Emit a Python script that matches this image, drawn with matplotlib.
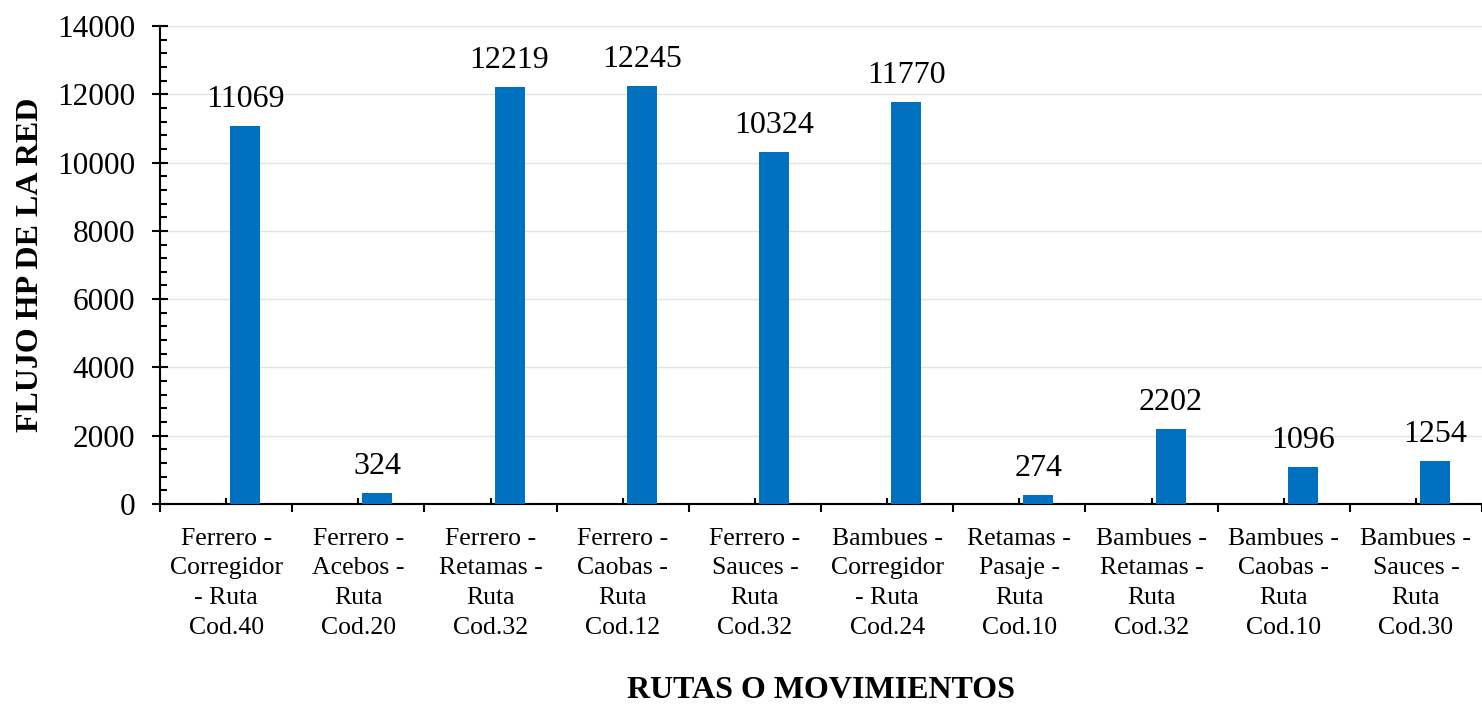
import numpy as np
import matplotlib
matplotlib.use("Agg")
import matplotlib.pyplot as plt
from matplotlib.ticker import MultipleLocator, FixedLocator

rutas = ["Ferrero -\nCorregidor\n- Ruta\nCod.40",
         "Ferrero -\nAcebos -\nRuta\nCod.20",
         "Ferrero -\nRetamas -\nRuta\nCod.32",
         "Ferrero -\nCaobas -\nRuta\nCod.12",
         "Ferrero -\nSauces -\nRuta\nCod.32",
         "Bambues -\nCorregidor\n- Ruta\nCod.24",
         "Retamas -\nPasaje -\nRuta\nCod.10",
         "Bambues -\nRetamas -\nRuta\nCod.32",
         "Bambues -\nCaobas -\nRuta\nCod.10",
         "Bambues -\nSauces -\nRuta\nCod.30"]
flujo = [11069, 324, 12219, 12245, 10324, 11770, 274, 2202, 1096, 1254]

plt.rcParams.update({
    'font.family': 'Liberation Serif',
    'font.size': 18.5,
    'axes.linewidth': 1.5,
})

fig = plt.figure(figsize=(14.82, 7.07), dpi=100)
ax = fig.add_axes([160 / 1482, 1 - 504 / 707, 1 - 160 / 1482, (504 - 26) / 707])

x = np.arange(len(rutas))
bw = 0.227
off = 0.144
bars = ax.bar(x + off, flujo, width=bw, color="#0070C0", zorder=3)

for xi, v in zip(x, flujo):
    ax.annotate(str(v), (xi + off, v), xytext=(0, 13.5), textcoords='offset points',
                ha='center', va='baseline', fontsize=23)

ax.set_xlim(-0.5, len(rutas) - 0.5)
ax.set_ylim(0, 14000)

ax.yaxis.set_major_locator(MultipleLocator(2000))
ax.yaxis.set_minor_locator(MultipleLocator(400))
ax.tick_params(axis='y', which='major', direction='inout', length=11.5, width=1.5,
               labelsize=22.5, pad=12)
ax.tick_params(axis='y', which='minor', direction='in', length=4.8, width=1.5)

ax.set_xticks(x)
ax.set_xticklabels(rutas, linespacing=1.45)
ax.xaxis.set_minor_locator(FixedLocator(np.arange(-0.5, len(rutas), 1.0)))
ax.tick_params(axis='x', which='major', direction='in', length=4.3, width=1.5,
               labelsize=18.5, pad=17)
ax.tick_params(axis='x', which='minor', direction='out', length=5.5, width=1.5)

ax.grid(True, axis='y', which='major', color='#e3e3e3', linewidth=1.0, zorder=0)
ax.set_axisbelow(True)

for s in ['top', 'right']:
    ax.spines[s].set_visible(False)

ax.set_xlabel("RUTAS O MOVIMIENTOS", fontweight='bold', fontsize=23, labelpad=27)
ax.set_ylabel("FLUJO HP DE LA RED", fontweight='bold', fontsize=23, labelpad=9)

fig.savefig("out.png", dpi=100)
